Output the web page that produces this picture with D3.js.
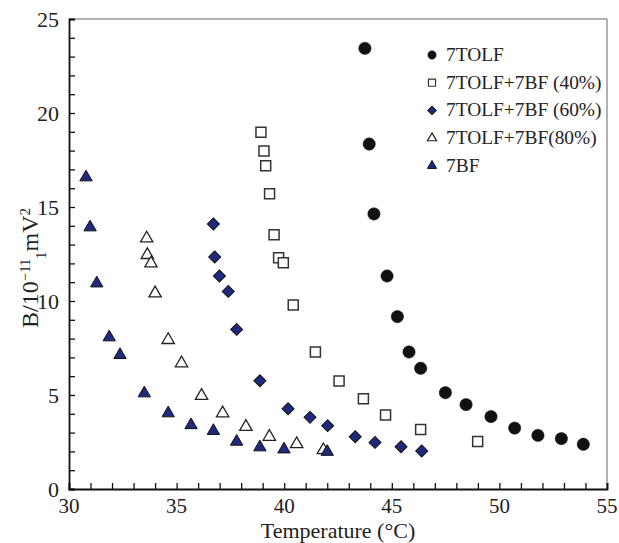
<!DOCTYPE html>
<html>
<head>
<meta charset="utf-8">
<script src="https://cdn.jsdelivr.net/npm/d3@7/dist/d3.min.js"></script>
<style>
html,body{margin:0;padding:0;background:#fff;}
svg text{font-family:"Liberation Serif","Times New Roman",serif;fill:#222;}
</style>
</head>
<body>
<svg id="chart" width="619" height="543"></svg>
<script>
// ---- data ----
const seriesNames = ["7TOLF", "7TOLF+7BF (40%)", "7TOLF+7BF (60%)", "7TOLF+7BF(80%)", "7BF"];

const tolfT = [43.75, 43.95, 44.17, 44.78, 45.26, 45.80, 46.34, 47.49, 48.45, 49.61, 50.71, 51.79, 52.88, 53.90];
const tolfB = [23.44, 18.35, 14.63, 11.33, 9.17, 7.29, 6.42, 5.12, 4.49, 3.85, 3.24, 2.85, 2.68, 2.38];

const bf40T = [38.92, 39.06, 39.14, 39.32, 39.53, 39.74, 39.96, 40.42, 41.45, 42.55, 43.68, 44.71, 46.34, 48.99];
const bf40B = [18.97, 17.98, 17.20, 15.71, 13.53, 12.30, 12.04, 9.79, 7.29, 5.74, 4.80, 3.94, 3.17, 2.52];

const bf60T = [36.71, 36.77, 36.99, 37.40, 37.79, 38.87, 40.18, 41.20, 42.02, 43.30, 44.22, 45.43, 46.39];
const bf60B = [14.10, 12.34, 11.33, 10.51, 8.49, 5.76, 4.27, 3.81, 3.37, 2.78, 2.48, 2.25, 2.02];

const bf80T = [33.61, 33.64, 33.81, 34.00, 34.61, 35.23, 36.16, 37.14, 38.22, 39.31, 40.58, 41.82];
const bf80B = [13.33, 12.45, 12.00, 10.41, 7.93, 6.69, 4.96, 4.03, 3.31, 2.78, 2.39, 2.07];

const bfT = [30.79, 30.98, 31.29, 31.87, 32.37, 33.50, 34.61, 35.67, 36.71, 37.79, 38.87, 39.99, 42.00];
const bfB = [16.58, 13.92, 10.94, 8.07, 7.13, 5.09, 4.03, 3.40, 3.09, 2.52, 2.22, 2.11, 1.98];

const xTicks = [30, 35, 40, 45, 50, 55];
const yTicks = [0, 5, 10, 15, 20, 25];

// ---- layout ----
const svg = d3.select("#chart");
const L = 69, R = 607, T = 19, B = 489;
const x = d3.scaleLinear().domain([30, 55]).range([L, R]);
const y = d3.scaleLinear().domain([0, 25]).range([B, T]);

const navy = "#1f2a7e";
const styles = [
  {type: d3.symbolCircle, size: 120, lsize: 55, fill: "#111", stroke: "#111", sw: 0.5, rot: 0},
  {type: d3.symbolSquare, size: 100, lsize: 50, fill: "#fff", stroke: "#333", sw: 1.5, rot: 0},
  {type: d3.symbolSquare, size: 72, lsize: 36, fill: navy, stroke: "#111", sw: 1, rot: 45},
  {type: d3.symbolTriangle, size: 66, lsize: 36, fill: "#fff", stroke: "#222", sw: 1.3, rot: 0},
  {type: d3.symbolTriangle, size: 66, lsize: 36, fill: navy, stroke: "#111", sw: 1, rot: 0}
];
const series = [
  d3.zip(tolfT, tolfB), d3.zip(bf40T, bf40B), d3.zip(bf60T, bf60B), d3.zip(bf80T, bf80B), d3.zip(bfT, bfB)
];

// frame: top/right gray
svg.append("line").attr("x1", L).attr("x2", R).attr("y1", T).attr("y2", T).attr("stroke", "#999").attr("stroke-width", 1.5);
svg.append("line").attr("x1", R).attr("x2", R).attr("y1", T).attr("y2", B).attr("stroke", "#999").attr("stroke-width", 1.5);

// axes with minor ticks inward
const xAxis = d3.axisBottom(x).tickValues(d3.range(30, 56, 1)).tickSize(-6).tickFormat("");
const yAxis = d3.axisLeft(y).tickValues(d3.range(0, 26, 1)).tickSize(-6).tickFormat("");
const gx = svg.append("g").attr("transform", `translate(0,${B})`).call(xAxis);
const gy = svg.append("g").attr("transform", `translate(${L},0)`).call(yAxis);
[gx, gy].forEach(g => {
  g.select(".domain").attr("stroke", "#111").attr("stroke-width", 1.8);
  g.selectAll(".tick line").attr("stroke", "#111").attr("stroke-width", 1.3);
});

// tick labels
svg.append("g").selectAll("text").data(xTicks).join("text")
  .attr("x", d => x(d)).attr("y", 513).attr("text-anchor", "middle")
  .attr("font-size", 21).text(d => d);
svg.append("g").selectAll("text").data(yTicks).join("text")
  .attr("x", 59).attr("y", d => y(d) + 7.5).attr("text-anchor", "end")
  .attr("font-size", 22).text(d => d);

// axis titles
svg.append("text").attr("x", (L + R) / 2).attr("y", 538).attr("text-anchor", "middle")
  .attr("font-size", 22).text("Temperature (°C)");
const yl = svg.append("text").attr("transform", "translate(38,268) rotate(-90)")
  .attr("text-anchor", "middle").attr("font-size", 24);
yl.append("tspan").text("B/10");
yl.append("tspan").attr("baseline-shift", "super").attr("font-size", 15).text("−11");
yl.append("tspan").attr("baseline-shift", "sub").attr("font-size", 15).text("1");
yl.append("tspan").text("mV");
yl.append("tspan").attr("baseline-shift", "super").attr("font-size", 15).text("2");

// points
series.forEach((pts, i) => {
  const s = styles[i];
  const sym = d3.symbol().type(s.type).size(s.size);
  svg.append("g").selectAll("path").data(pts).join("path")
    .attr("d", sym)
    .attr("transform", d => `translate(${x(d[0])},${y(d[1])}) rotate(${s.rot})`)
    .attr("fill", s.fill).attr("stroke", s.stroke).attr("stroke-width", s.sw);
});

// legend
const lg = svg.append("g");
seriesNames.forEach((name, i) => {
  const s = styles[i];
  const cy = 55 + i * 27.7;
  lg.append("path").attr("d", d3.symbol().type(s.type).size(s.lsize))
    .attr("transform", `translate(432,${cy}) rotate(${s.rot})`)
    .attr("fill", s.fill).attr("stroke", s.stroke).attr("stroke-width", Math.min(s.sw, 1.2));
  lg.append("text").attr("x", 446).attr("y", cy + 6).attr("font-size", 19.4).text(name);
});
</script>
</body>
</html>
